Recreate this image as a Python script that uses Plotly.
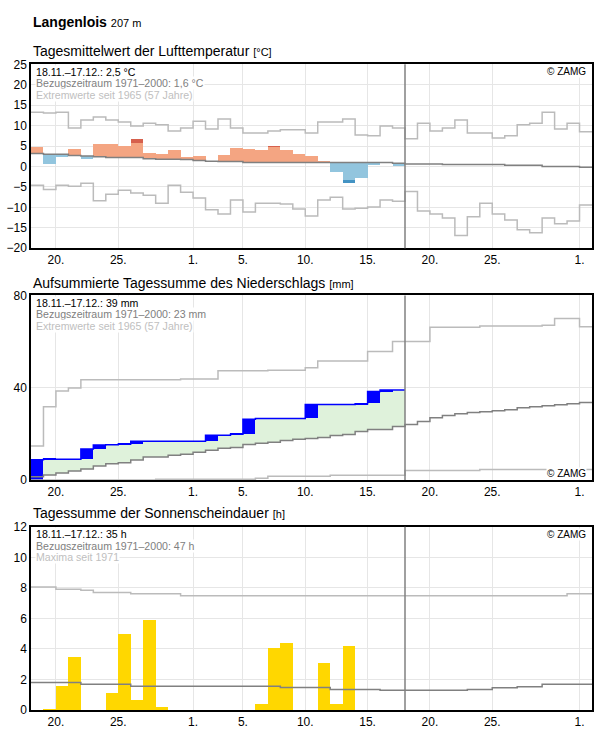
import plotly.graph_objects as go

# ---------------- data (day index 0 = 18 Nov, 45 days to 2 Jan) ----------------
tick_days = [2, 7, 13, 17, 22, 27, 32, 37, 44]
tick_text = ["20.", "25.", "1.", "5.", "10.", "15.", "20.", "25.", "1."]
today_day = 30

# Temperature (°C)
temp_obs = [4.7, 0.6, 2.3, 4.2, 1.8, 5.5, 5.5, 5.0, 6.6, 3.3,
            3.0, 3.9, 2.2, 2.5, 1.3, 2.7, 4.4, 4.2, 3.9, 4.9,
            3.9, 3.0, 2.5, 1.3, -1.5, -4.0, -2.8, 0.3, 1.0, 0.1]
temp_dark_from = [None, None, None, None, None, None, None, None, 5.6, None,
                  None, None, None, None, None, None, None, None, None, 4.75,
                  None, None, None, None, None, -3.3, None, None, None, None]
temp_clim = [3.2, 3.0, 3.0, 2.7, 2.6, 2.4, 2.2, 2.2, 2.2, 1.9,
             1.8, 1.8, 1.7, 1.5, 1.3, 1.2, 1.2, 1.0, 1.0, 1.0,
             1.0, 1.0, 1.0, 1.0, 1.0, 1.0, 1.0, 1.0, 1.0, 0.8,
             0.6, 0.6, 0.6, 0.5, 0.5, 0.5, 0.5, 0.5, 0.3, 0.3,
             0.3, 0.0, 0.0, 0.0, -0.2]
temp_max = [13.3, 13.1, 13.3, 9.4, 11.4, 12.1, 11.4, 10.9, 9.9, 10.6,
            10.2, 8.7, 9.4, 11.1, 9.2, 11.6, 9.4, 8.2, 8.2, 8.7,
            9.0, 9.0, 8.2, 10.9, 10.9, 11.6, 7.7, 7.5, 9.9, 9.4,
            6.8, 10.6, 8.7, 9.4, 11.4, 8.2, 8.2, 7.0, 7.5, 10.2,
            10.6, 13.3, 9.2, 10.6, 8.5]
temp_min = [-4.6, -5.6, -4.6, -4.8, -4.1, -8.4, -6.8, -5.8, -6.5, -7.0,
            -9.0, -4.6, -6.3, -7.7, -10.6, -11.6, -8.2, -11.1, -9.0, -9.0,
            -9.2, -10.4, -12.1, -8.2, -7.5, -10.4, -10.2, -9.9, -8.2, -8.5,
            -6.1, -10.9, -11.6, -12.6, -16.9, -12.3, -9.0, -11.6, -13.1, -15.5,
            -16.2, -12.6, -14.0, -13.3, -9.4]

# Precipitation, accumulated (mm)
prec_cum = [8.7, 9.0, 9.0, 9.0, 13.4, 15.1, 15.3, 15.6, 16.8, 16.8,
            16.8, 16.8, 16.8, 16.8, 19.4, 19.4, 19.8, 26.3, 26.6, 26.6,
            26.6, 26.6, 32.7, 32.7, 32.7, 32.7, 33.0, 38.3, 39.0, 39.0]
prec_clim = [1.4, 2.1, 3.0, 3.9, 4.7, 6.0, 7.0, 7.4, 8.6, 9.9,
             9.9, 10.7, 11.1, 12.0, 12.9, 13.7, 14.1, 15.4, 15.9, 16.3,
             17.1, 17.6, 18.0, 18.4, 19.3, 19.7, 21.0, 21.9, 21.9, 23.2,
             24.0, 25.3, 27.0, 27.9, 28.7, 29.2, 29.6, 30.0, 30.4, 31.3,
             31.7, 32.2, 32.6, 33.0, 33.6]
prec_max = [14.7, 31.7, 38.6, 39.9, 43.4, 43.4, 43.4, 43.4, 43.4, 43.4,
            43.4, 43.4, 43.8, 43.8, 43.8, 47.3, 47.3, 47.3, 47.3, 47.6,
            47.6, 47.6, 48.6, 51.6, 51.6, 51.6, 51.6, 55.7, 55.7, 60.0,
            60.0, 60.0, 66.2, 66.2, 66.2, 66.2, 66.7, 66.7, 66.7, 66.7,
            66.7, 67.1, 70.0, 70.0, 66.4]
prec_min = [0.0, 0.0, 0.0, 0.0, 0.0, 0.0, 0.0, 0.0, 0.0, 0.0,
            0.3, 0.3, 0.3, 0.3, 0.3, 0.3, 0.3, 0.3, 0.7, 1.6,
            1.6, 1.6, 1.6, 1.6, 2.0, 2.0, 2.0, 2.0, 2.0, 2.0,
            4.1, 4.1, 4.1, 4.1, 4.1, 4.1, 4.5, 4.5, 4.5, 4.5,
            4.5, 4.5, 4.5, 4.5, 4.5]

# Sunshine duration (h)
sun_obs = [0.0, 0.1, 1.6, 3.5, 0.0, 0.0, 1.1, 5.0, 0.7, 5.9,
           0.2, 0.0, 0.0, 0.0, 0.0, 0.0, 0.0, 0.0, 0.4, 4.1,
           4.4, 0.0, 0.0, 3.1, 0.4, 4.2, 0.0, 0.0, 0.0, 0.0]
sun_clim = [1.8, 1.8, 1.8, 1.8, 1.68, 1.68, 1.68, 1.68, 1.55, 1.55,
            1.55, 1.55, 1.55, 1.55, 1.55, 1.55, 1.55, 1.55, 1.55, 1.55,
            1.48, 1.48, 1.48, 1.48, 1.35, 1.35, 1.35, 1.35, 1.29, 1.29,
            1.29, 1.29, 1.29, 1.29, 1.29, 1.35, 1.35, 1.46, 1.46, 1.52,
            1.52, 1.68, 1.68, 1.68, 1.68]
sun_max = [8.06, 8.06, 7.91, 7.91, 7.85, 7.7, 7.7, 7.7, 7.61, 7.61,
           7.61, 7.61, 7.48, 7.48, 7.48, 7.48, 7.48, 7.48, 7.48, 7.48,
           7.48, 7.48, 7.48, 7.48, 7.48, 7.48, 7.48, 7.48, 7.48, 7.48,
           7.48, 7.48, 7.48, 7.48, 7.48, 7.48, 7.48, 7.48, 7.48, 7.48,
           7.48, 7.48, 7.48, 7.61, 7.61]

# ---------------- styling ----------------
W, H = 596, 729
ML, MR, MT, MB = 31, 4, 0, 18
PH = H - MT - MB
PW = W - ML - MR
FONT = "Arial, 'Liberation Sans', sans-serif"
C_CLIM = "#808080"
C_EXT = "#BBBBBB"
C_GRID = "#E6E6E6"


def py(y):
    return (H - MB - y) / PH


def pxx(x):
    return (x - ML) / PW


def step_xy(vals):
    xs = list(range(len(vals) + 1))
    ys = list(vals) + [vals[-1]]
    return xs, ys


def step_line(vals, color, width, xa, ya, **kw):
    xs, ys = step_xy(vals)
    return go.Scatter(x=xs, y=ys, mode="lines", line=dict(color=color, width=width, shape="hv"),
                      xaxis=xa, yaxis=ya, hoverinfo="skip", showlegend=False, **kw)


def bars(base, top, colors, xa, ya, xs=None):
    if xs is None:
        xs = [i + 0.5 for i in range(len(top))]
    return go.Bar(x=xs, base=base, y=[t - b for t, b in zip(top, base)], width=1,
                  marker=dict(color=colors, line_width=0), xaxis=xa, yaxis=ya,
                  hoverinfo="skip", showlegend=False)


fig = go.Figure()
ndays = len(temp_obs)

# ---- panel 1: temperature ----
fig.add_trace(bars(temp_clim[:ndays], temp_obs,
                   ["#F4A582" if o >= c else "#92C5DE" for o, c in zip(temp_obs, temp_clim)], "x", "y"))
dk_x, dk_base, dk_top, dk_col = [], [], [], []
for i, d in enumerate(temp_dark_from):
    if d is not None:
        dk_x.append(i + 0.5)
        dk_base.append(d)
        dk_top.append(temp_obs[i])
        dk_col.append("#D6604D" if temp_obs[i] >= temp_clim[i] else "#4393C3")
fig.add_trace(bars(dk_base, dk_top, dk_col, "x", "y", xs=dk_x))
fig.add_trace(step_line(temp_max, C_EXT, 1.5, "x", "y"))
fig.add_trace(step_line(temp_min, C_EXT, 1.5, "x", "y"))
fig.add_trace(step_line(temp_clim, C_CLIM, 1.5, "x", "y"))

# ---- panel 2: precipitation ----
fig.add_trace(bars(prec_clim[:ndays], prec_cum, "#DFF2DB", "x2", "y2"))
prev = [0.0] + prec_cum[:-1]
fig.add_trace(bars(prev, prec_cum, "#0000FF", "x2", "y2"))
fig.add_trace(step_line(prec_max, C_EXT, 1.5, "x2", "y2"))
fig.add_trace(step_line(prec_min, C_EXT, 1.5, "x2", "y2"))
fig.add_trace(step_line(prec_clim, C_CLIM, 1.5, "x2", "y2"))
fig.add_trace(step_line(prec_cum, "#0000FF", 1.5, "x2", "y2"))

# ---- panel 3: sunshine ----
fig.add_trace(bars([0.0] * ndays, sun_obs, "#FFD700", "x3", "y3"))
fig.add_trace(step_line(sun_max, C_EXT, 1.5, "x3", "y3"))
fig.add_trace(step_line(sun_clim, C_CLIM, 1.5, "x3", "y3"))

# ---------------- axes ----------------
panels = [  # (top px, bottom px, y range, y ticks)
    (58, 244, [-20, 25], list(range(-20, 26, 5))),
    (291.7, 478.3, [0, 80], [0, 40, 80]),
    (525.7, 711, [0, 12], list(range(0, 13, 2))),
]
axis_common = dict(showgrid=True, gridcolor=C_GRID, gridwidth=1, showline=True, linecolor="black",
                   linewidth=1.5, mirror=True, ticks="", zeroline=False, fixedrange=True,
                   tickfont=dict(family=FONT, size=12, color="black"))
layout_axes = {}
for k, (top, bot, yr, yt) in enumerate(panels):
    sfx = "" if k == 0 else str(k + 1)
    layout_axes["xaxis" + sfx] = dict(axis_common, domain=[0, 1], range=[0, 45], tickvals=tick_days,
                                      ticktext=tick_text, anchor="y" + sfx)
    layout_axes["yaxis" + sfx] = dict(axis_common, domain=[max(0, py(bot)), py(top)], range=yr,
                                      tickvals=yt, anchor="x" + sfx)

shapes = []
for k in range(3):
    sfx = "" if k == 0 else str(k + 1)
    shapes.append(dict(type="line", xref="x" + sfx, yref="y" + sfx + " domain", x0=today_day, x1=today_day,
                       y0=0, y1=1, line=dict(color=C_CLIM, width=1.5), layer="above"))

# ---------------- texts ----------------
ann = []


def text(x, y, s, size, color="black", xanchor="left", bg=None):
    d = dict(x=pxx(x), y=py(y), xref="paper", yref="paper", text=s, showarrow=False,
             xanchor=xanchor, yanchor="middle", font=dict(family=FONT, size=size, color=color))
    if bg:
        d.update(bgcolor=bg, borderpad=0)
    ann.append(d)


text(31, 15, "<b>Langenlois</b> <span style='font-size:11px'>207 m</span>", 14)
titles = [
    (45, "Tagesmittelwert der Lufttemperatur <span style='font-size:11px'>[°C]</span>"),
    (279, "Aufsummierte Tagessumme des Niederschlags <span style='font-size:11px'>[mm]</span>"),
    (512, "Tagessumme der Sonnenscheindauer <span style='font-size:11px'>[h]</span>"),
]
for y, s in titles:
    text(31, y, s, 14)

info = [
    (58, ["18.11.–17.12.: 2,5 °C", "Bezugszeitraum 1971–2000: 1,6 °C", "Extremwerte seit 1965 (57 Jahre)"]),
    (291.7, ["18.11.–17.12.: 39 mm", "Bezugszeitraum 1971–2000: 23 mm", "Extremwerte seit 1965 (57 Jahre)"]),
    (525.7, ["18.11.–17.12.: 35 h", "Bezugszeitraum 1971–2000: 47 h", "Maxima seit 1971"]),
]
for top, lines in info:
    for j, (s, col) in enumerate(zip(lines, ["black", "#808080", "#C0C0C0"])):
        text(35, top + 7.5 + 11.5 * j, s, 10.6, col, bg="white")

for y in [65.5, 472, 533.5]:
    text(587, y, "© ZAMG", 10, "black", xanchor="right", bg="white")

fig.update_layout(width=W, height=H, margin=dict(l=ML, r=MR, t=MT, b=MB), paper_bgcolor="white",
                  plot_bgcolor="white", barmode="overlay", bargap=0, showlegend=False,
                  annotations=ann, shapes=shapes, font=dict(family=FONT), **layout_axes)

fig.write_html("out.html")
